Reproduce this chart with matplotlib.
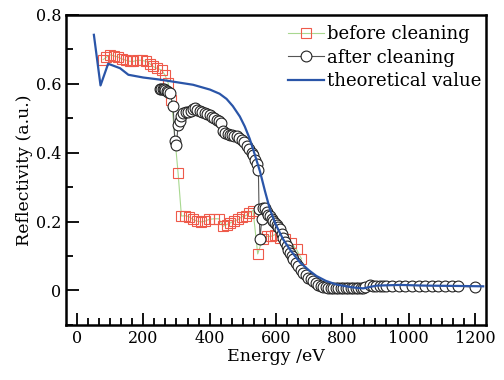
import matplotlib
matplotlib.use("Agg")
import matplotlib.pyplot as plt
from matplotlib.ticker import MultipleLocator, FuncFormatter

plt.rcParams["font.family"] = ["DejaVu Serif"]
plt.rcParams["mathtext.fontset"] = "dejavuserif"

# before cleaning (red squares)
before_x = [79, 89, 99, 111, 125, 135, 148, 160, 170, 182, 195, 208, 220, 230,
            240, 255, 265, 275, 285, 305, 315, 327, 338, 350, 362, 374, 386,
            398, 412, 428, 440, 451, 462, 474, 486, 497, 509, 520, 531, 545,
            560, 572, 585, 597, 612, 627, 645, 662, 677]
before_y = [0.670, 0.677, 0.684, 0.681, 0.677, 0.672, 0.668, 0.665, 0.665,
            0.668, 0.668, 0.665, 0.658, 0.650, 0.645, 0.640, 0.626, 0.602,
            0.553, 0.340, 0.216, 0.217, 0.214, 0.206, 0.201, 0.199, 0.201,
            0.206, 0.208, 0.208, 0.186, 0.191, 0.196, 0.201, 0.206, 0.214,
            0.217, 0.225, 0.232, 0.106, 0.150, 0.157, 0.157, 0.162, 0.152,
            0.148, 0.138, 0.119, 0.092]

# after cleaning (black circles)
after_x = [250, 254, 258, 262, 266, 270, 275, 280, 290, 295, 300, 305, 310,
           315, 320, 328, 335, 343, 350, 356, 363, 371, 378, 386, 393, 400,
           407, 414, 421, 428, 434, 441, 447, 454, 461, 468, 475, 482, 489,
           497, 504, 512, 519, 527, 532, 537, 542, 547, 549, 552, 557, 562,
           567, 572, 577, 582, 587, 592, 597, 602, 607, 612, 617, 622, 627,
           632, 637, 642, 647, 652, 660, 667, 675, 682, 690, 697, 705, 712,
           720, 727, 735, 742, 750, 757, 765, 772, 780, 787, 795, 802, 810,
           817, 825, 832, 840, 847, 855, 862, 870, 883, 893, 903, 913, 923,
           933, 950, 970, 990, 1010, 1030, 1050, 1070, 1090, 1110, 1130,
           1150, 1200]
after_y = [0.585, 0.586, 0.585, 0.584, 0.582, 0.580, 0.577, 0.573, 0.536,
           0.433, 0.423, 0.481, 0.491, 0.505, 0.515, 0.518, 0.518, 0.522,
           0.527, 0.529, 0.525, 0.520, 0.518, 0.516, 0.513, 0.509, 0.504,
           0.500, 0.496, 0.492, 0.485, 0.462, 0.457, 0.454, 0.452, 0.450,
           0.449, 0.447, 0.443, 0.438, 0.430, 0.419, 0.410, 0.399, 0.392,
           0.380, 0.366, 0.351, 0.235, 0.148, 0.206, 0.238, 0.240, 0.228,
           0.220, 0.215, 0.208, 0.201, 0.195, 0.190, 0.183, 0.177, 0.165,
           0.152, 0.140, 0.128, 0.118, 0.109, 0.099, 0.090, 0.080, 0.070,
           0.060, 0.051, 0.044, 0.037, 0.032, 0.027, 0.021, 0.017, 0.013,
           0.011, 0.009, 0.008, 0.007, 0.007, 0.006, 0.006, 0.006, 0.006,
           0.006, 0.006, 0.006, 0.007, 0.007, 0.007, 0.008, 0.008, 0.010,
           0.017, 0.012, 0.012, 0.012, 0.012, 0.012, 0.012, 0.012, 0.012,
           0.012, 0.012, 0.012, 0.012, 0.012, 0.012, 0.012, 0.012, 0.010]

# theoretical value (blue line)
theory_x = [51, 71, 94, 130, 155, 200, 250, 310, 350, 401, 430, 451, 470, 491,
            506, 521, 537, 552, 567, 582, 600, 622, 645, 673, 700, 722, 750,
            783, 830, 863, 903, 974, 1050, 1150, 1225]
theory_y = [0.742, 0.595, 0.658, 0.645, 0.626, 0.618, 0.612, 0.603, 0.597,
            0.583, 0.571, 0.556, 0.535, 0.505, 0.476, 0.440, 0.392, 0.345,
            0.288, 0.235, 0.190, 0.148, 0.115, 0.081, 0.058, 0.042, 0.028,
            0.017, 0.009, 0.006, 0.014, 0.016, 0.014, 0.013, 0.012]

fig = plt.figure(figsize=(5.04, 3.8), dpi=100)
ax = fig.add_axes([0.131, 0.145, 0.833, 0.816])

ax.plot(before_x, before_y, color="#a8d890", lw=0.8, marker="s", ms=6.5,
        mfc="none", mec="#ee5a4a", mew=0.8, label="before cleaning", zorder=2)
ax.plot(after_x, after_y, color="#555555", lw=0.8, marker="o", ms=7.8,
        mfc="white", mec="#222222", mew=0.8, label="after cleaning", zorder=3)
ax.plot(theory_x, theory_y, color="#2a55a8", lw=1.6, label="theoretical value",
        zorder=4)

ax.set_xlim(-33, 1233)
ax.set_ylim(-0.1, 0.8)
ax.xaxis.set_major_locator(MultipleLocator(200))
ax.xaxis.set_minor_locator(MultipleLocator(200 / 6))
ax.yaxis.set_major_locator(MultipleLocator(0.2))
ax.yaxis.set_minor_locator(MultipleLocator(0.1))
ax.yaxis.set_major_formatter(FuncFormatter(lambda v, p: "0" if abs(v) < 1e-9 else f"{v:.1f}"))
ax.tick_params(which="both", direction="in", top=False, right=False,
               labelsize=11.5, width=1.3)
ax.tick_params(which="major", length=9)
ax.tick_params(which="minor", length=5)
for s in ax.spines.values():
    s.set_linewidth(1.8)

ax.set_xlabel("Energy /eV", fontsize=12.5, labelpad=1)
ax.set_ylabel("Reflectivity (a.u.)", fontsize=12.5, labelpad=2)

ax.legend(loc="upper right", bbox_to_anchor=(0.998, 0.978), frameon=False,
          fontsize=13, handlelength=2.0, handletextpad=0.15, labelspacing=0.3,
          borderaxespad=0.0, borderpad=0.2)

fig.savefig("out.png", dpi=100)
